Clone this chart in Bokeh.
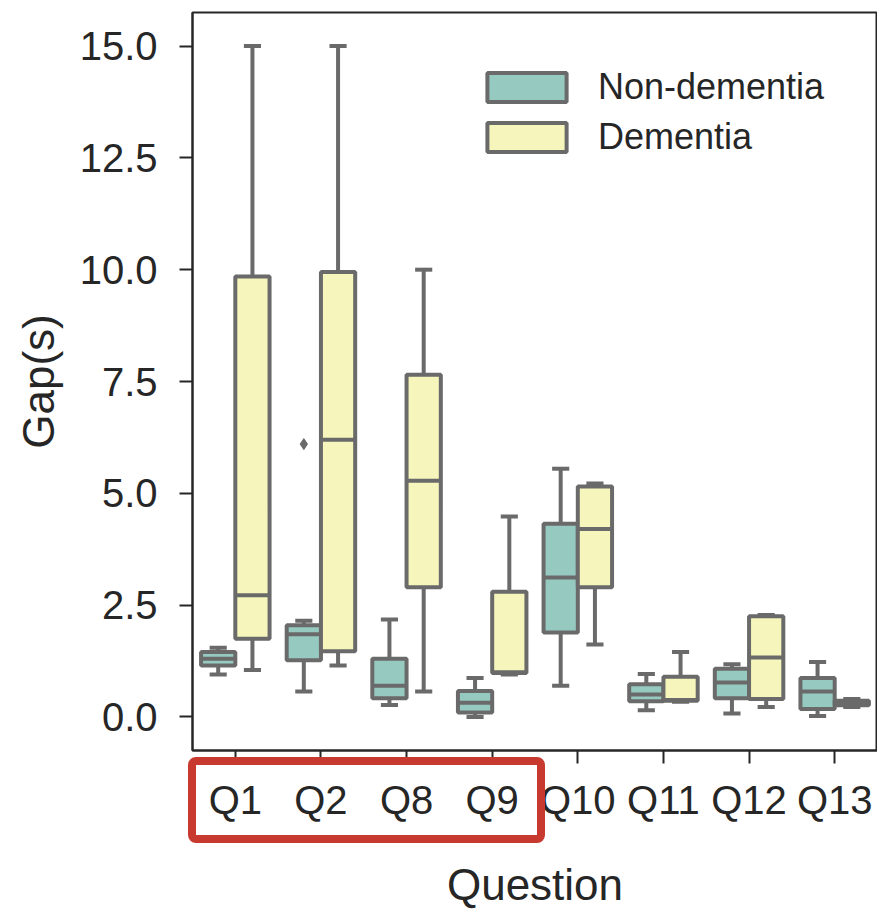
from bokeh.plotting import figure
from bokeh.models import (ColumnDataSource, Range1d, FixedTicker, NumeralTickFormatter,
                          Legend, LegendItem, Div)
from bokeh.layouts import column
from bokeh.embed import file_html
from bokeh.resources import INLINE

# ---------------- data ----------------
categories = ["Q1", "Q2", "Q8", "Q9", "Q10", "Q11", "Q12", "Q13"]
groups = ["Non-dementia", "Dementia"]

nd_low = [0.95, 0.57, 0.27, 0.00, 0.70, 0.15, 0.08, 0.02]
nd_q1 = [1.15, 1.27, 0.42, 0.10, 1.89, 0.35, 0.42, 0.18]
nd_med = [1.30, 1.85, 0.70, 0.32, 3.12, 0.50, 0.77, 0.57]
nd_q3 = [1.45, 2.05, 1.30, 0.58, 4.32, 0.73, 1.08, 0.87]
nd_high = [1.55, 2.15, 2.18, 0.87, 5.55, 0.96, 1.18, 1.23]

d_low = [1.05, 1.15, 0.57, 0.95, 1.62, 0.34, 0.22, 0.22]
d_q1 = [1.75, 1.47, 2.90, 0.98, 2.90, 0.36, 0.40, 0.26]
d_med = [2.72, 6.20, 5.28, 1.00, 4.20, 0.38, 1.33, 0.30]
d_q3 = [9.85, 9.95, 7.65, 2.80, 5.15, 0.90, 2.25, 0.36]
d_high = [15.00, 15.00, 10.00, 4.48, 5.22, 1.45, 2.28, 0.40]

outlier_cat = ["Q2"]
outlier_group = ["Non-dementia"]
outlier_val = [6.1]

y_ticks = [0.0, 2.5, 5.0, 7.5, 10.0, 12.5, 15.0]
highlight_cats = ["Q1", "Q2", "Q8", "Q9"]

# ---------------- style ----------------
colors = {"Non-dementia": "#96cac1", "Dementia": "#f6f6bc"}
edge = "#6a6a6a"
txt = "#262626"
font = "Liberation Sans"
lw = 4
box_w = 0.4
dodge = {"Non-dementia": -0.2, "Dementia": 0.2}

FRAME_L, FRAME_T, FRAME_W, FRAME_H = 192, 12, 685, 738
x_lo, x_hi = -0.5, len(categories) - 0.5

p = figure(frame_width=FRAME_W, frame_height=FRAME_H, output_backend="svg", toolbar_location=None,
           x_range=Range1d(x_lo, x_hi), y_range=Range1d(-0.75, 15.75),
           min_border_left=FRAME_L, min_border_right=0, min_border_top=FRAME_T, min_border_bottom=157)
p.background_fill_color = "white"
p.border_fill_color = "white"
p.grid.visible = False
p.outline_line_color = txt
p.outline_line_width = 2

series = {
    "Non-dementia": (nd_low, nd_q1, nd_med, nd_q3, nd_high),
    "Dementia": (d_low, d_q1, d_med, d_q3, d_high),
}

legend_items = []
for g in groups:
    low, q1, med, q3, high = series[g]
    xs = [i + dodge[g] for i in range(len(categories))]
    src = ColumnDataSource(dict(
        x=xs, low=low, q1=q1, med=med, q3=q3, high=high,
        xl=[x - box_w / 2 for x in xs], xr=[x + box_w / 2 for x in xs],
        cl=[x - box_w / 4 for x in xs], cr=[x + box_w / 4 for x in xs],
    ))
    p.segment(x0="x", y0="low", x1="x", y1="q1", source=src, line_color=edge, line_width=lw)
    p.segment(x0="x", y0="q3", x1="x", y1="high", source=src, line_color=edge, line_width=lw)
    p.segment(x0="cl", y0="low", x1="cr", y1="low", source=src, line_color=edge, line_width=lw)
    p.segment(x0="cl", y0="high", x1="cr", y1="high", source=src, line_color=edge, line_width=lw)
    r = p.vbar(x="x", width=box_w, bottom="q1", top="q3", source=src,
               fill_color=colors[g], line_color=edge, line_width=lw)
    p.segment(x0="xl", y0="med", x1="xr", y1="med", source=src, line_color=edge, line_width=lw)
    legend_items.append(LegendItem(label=g, renderers=[r]))

ox = [categories.index(c) + dodge[g] for c, g in zip(outlier_cat, outlier_group)]
p.scatter(x=ox, y=outlier_val, marker="diamond", size=11, fill_color=edge, line_color=edge)

p.xaxis.ticker = FixedTicker(ticks=list(range(len(categories))))
p.xaxis.major_label_overrides = {i: c for i, c in enumerate(categories)}
p.yaxis.ticker = FixedTicker(ticks=y_ticks)
p.yaxis.formatter = NumeralTickFormatter(format="0.0")
for ax in (p.xaxis[0], p.yaxis[0]):
    ax.axis_line_color = txt
    ax.axis_line_width = 2
    ax.major_tick_line_color = txt
    ax.major_tick_line_width = 2
    ax.major_tick_out = 13
    ax.major_tick_in = 0
    ax.minor_tick_out = 0
    ax.minor_tick_in = 0
    ax.major_label_text_font = font
    ax.major_label_text_font_size = "40px"
    ax.major_label_text_color = txt
    ax.axis_label_text_font = font
    ax.axis_label_text_font_size = "44px"
    ax.axis_label_text_font_style = "normal"
    ax.axis_label_text_color = txt
p.xaxis.axis_label = "Question"
p.yaxis.axis_label = "Gap(s)"
p.xaxis.major_label_standoff = 14
p.yaxis.major_label_standoff = 22
p.xaxis.axis_label_standoff = 35
p.yaxis.axis_label_standoff = 14

legend = Legend(items=legend_items, location=(285, 592), orientation="vertical",
                glyph_width=99, glyph_height=36, label_height=29, spacing=8,
                label_standoff=22, padding=0, margin=0,
                border_line_color=None, background_fill_alpha=0,
                label_text_font=font, label_text_font_size="36px", label_text_color=txt)
p.add_layout(legend)

# red highlight frame around the tick labels of the first four questions
# (annotations inside a Bokeh plot are clipped to the frame, so this sits in a fixed overlay)
px_per_unit = FRAME_W / (x_hi - x_lo)
hi = [categories.index(c) for c in highlight_cats]
box_left = FRAME_L + (min(hi) - 0.55 - x_lo) * px_per_unit
box_right = FRAME_L + (max(hi) + 0.62 - x_lo) * px_per_unit
box_top = FRAME_T + FRAME_H + 7
box_h = 86
overlay = Div(width=1, height=1, text=(
    f'<div style="position:fixed;left:{box_left:.0f}px;top:{box_top}px;'
    f'width:{box_right - box_left:.0f}px;height:{box_h}px;box-sizing:border-box;'
    'border:8px solid #c83a30;border-radius:8px;pointer-events:none;z-index:10;"></div>'))

layout = column(p, overlay, spacing=0)
open("out.html", "w").write(file_html(layout, INLINE))
